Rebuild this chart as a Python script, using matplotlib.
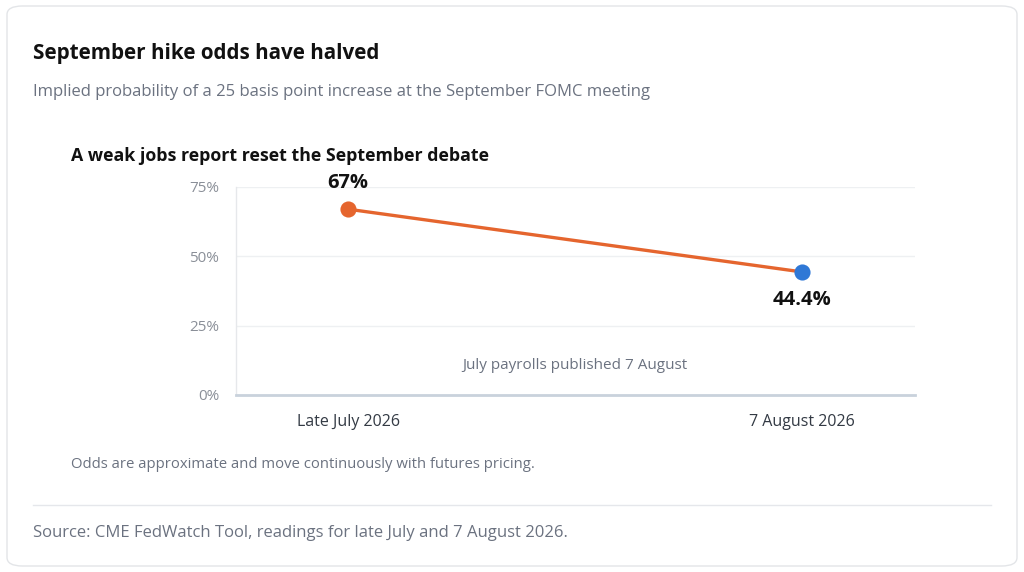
import matplotlib.pyplot as plt
from matplotlib.patches import FancyBboxPatch
from matplotlib.lines import Line2D

labels = ['Late July 2026', '7 August 2026']
odds = [67, 44.4]
value_text = ['67%', '44.4%']
point_colors = ['#e5652e', '#2f78d6']
yticks = [0, 25, 50, 75]

plt.rcParams['font.family'] = ['Open Sans', 'DejaVu Sans']

W, H = 1024, 572
fig = plt.figure(figsize=(W / 100, H / 100), dpi=100)
fig.patch.set_facecolor('white')

def fx(px):
    return px / W

def fy(py):
    return 1 - py / H

# card behind everything
card = FancyBboxPatch((fx(7), fy(566)), fx(1010), 560 / H,
                      boxstyle='round,pad=0,rounding_size=0.015',
                      transform=fig.transFigure, facecolor='white',
                      edgecolor='#e3e5e8', linewidth=1.0, zorder=-5)
fig.add_artist(card)

fig.text(fx(33), fy(54), 'September hike odds have halved', fontsize=14.9,
         fontweight='bold', color='#111111', va='center')
fig.text(fx(33), fy(92), 'Implied probability of a 25 basis point increase at the September FOMC meeting',
         fontsize=12, color='#6b7280', va='center')
fig.text(fx(71), fy(156), 'A weak jobs report reset the September debate', fontsize=12.8,
         fontweight='bold', color='#111111', va='center')

ax = fig.add_axes([fx(236), fy(395), fx(915 - 236), (395 - 187) / H], zorder=2)
ax.patch.set_alpha(0)
ax.set_xlim(-0.247, 1.25)
ax.set_ylim(0, 75)

xs = list(range(len(labels)))
ax.plot(xs, odds, color='#e5652e', linewidth=2.4, zorder=3, solid_capstyle='butt')
for x, y, c in zip(xs, odds, point_colors):
    ax.scatter([x], [y], s=135, color=c, zorder=4, linewidths=0)

ax.annotate(value_text[0], (xs[0], odds[0]), xytext=(0, 19), textcoords='offset points',
            ha='center', va='center', fontsize=14.5, fontweight='bold', color='#111111',
            annotation_clip=False)
ax.annotate(value_text[1], (xs[1], odds[1]), xytext=(0, -20), textcoords='offset points',
            ha='center', va='center', fontsize=14.5, fontweight='bold', color='#111111')

ax.text(0.5, 10.8, 'July payrolls published 7 August', ha='center', va='center',
        fontsize=11, color='#6b7280')

ax.set_yticks(yticks)
ax.set_yticklabels([f'{v}%' for v in yticks])
ax.set_xticks(xs)
ax.set_xticklabels(labels)
ax.tick_params(axis='y', length=0, pad=12, labelsize=11, labelcolor='#8a8f98')
ax.tick_params(axis='x', length=0, pad=14, labelsize=11.5, labelcolor='#333a44')
ax.grid(axis='y', color='#eef0f2', linewidth=1)
ax.set_axisbelow(True)
for s in ['top', 'right']:
    ax.spines[s].set_visible(False)
ax.spines['left'].set_color('#e6e8eb')
ax.spines['left'].set_linewidth(1)
ax.spines['bottom'].set_color('#c9d2dc')
ax.spines['bottom'].set_linewidth(2)

fig.text(fx(71), fy(464), 'Odds are approximate and move continuously with futures pricing.',
         fontsize=10.7, color='#6b7280', va='center')
fig.add_artist(Line2D([fx(33), fx(991)], [fy(505), fy(505)], transform=fig.transFigure,
                      color='#e5e7eb', linewidth=1))
fig.text(fx(33), fy(533), 'Source: CME FedWatch Tool, readings for late July and 7 August 2026.',
         fontsize=12, color='#6b7280', va='center')

fig.savefig('out.png', dpi=100, facecolor='white')
